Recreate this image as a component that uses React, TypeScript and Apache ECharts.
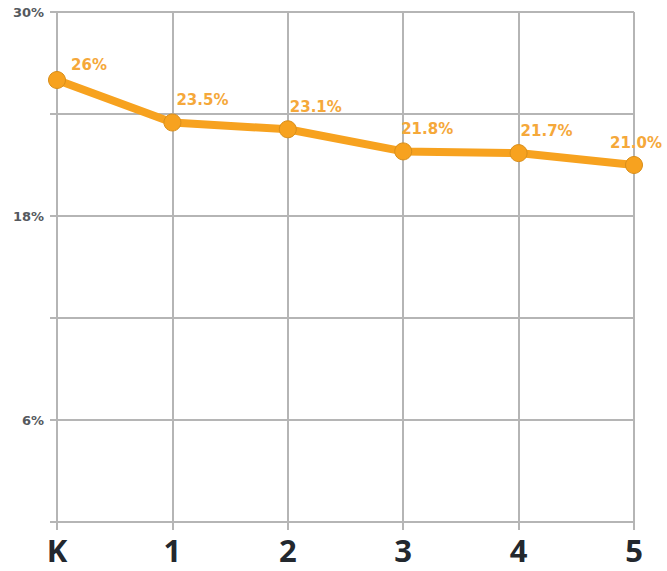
import React, { useEffect, useRef } from "react";
import * as echarts from "echarts";

const categories = ["K", "1", "2", "3", "4", "5"];
const rates = [26, 23.5, 23.1, 21.8, 21.7, 21.0];
const rateLabels = ["26%", "23.5%", "23.1%", "21.8%", "21.7%", "21.0%"];
const yTickLabels = [30, 18, 6];

const labelOffsets: [number, number][] = [
  [32, 7],
  [30, 0],
  [28, 0],
  [24, 0],
  [28, 0],
  [2, 0],
];

export default function App() {
  const ref = useRef<HTMLDivElement>(null);
  useEffect(() => {
    if (!ref.current) return;
    const chart = echarts.init(ref.current, undefined, { renderer: "svg" });
    chart.setOption({
      animation: false,
      backgroundColor: "#ffffff",
      grid: { left: 57, right: 33, top: 12, bottom: 49 },
      xAxis: {
        type: "category",
        data: categories,
        boundaryGap: false,
        axisLine: { show: true, lineStyle: { color: "#b5b5b5", width: 2 } },
        axisTick: { show: true, length: 8, alignWithLabel: true, lineStyle: { color: "#b5b5b5", width: 2 } },
        splitLine: { show: true, lineStyle: { color: "#b5b5b5", width: 2 } },
        axisLabel: {
          color: "#23282e",
          fontSize: 31,
          fontWeight: "bold",
          fontFamily: "Open Sans",
          margin: 12,
        },
      },
      yAxis: {
        type: "value",
        min: 0,
        max: 30,
        interval: 6,
        axisLine: { show: false },
        axisTick: { show: true, length: 7, lineStyle: { color: "#b5b5b5", width: 2 } },
        splitLine: { show: true, lineStyle: { color: "#b5b5b5", width: 2 } },
        axisLabel: {
          color: "#55595e",
          fontSize: 13,
          fontWeight: "bold",
          fontFamily: "DejaVu Sans",
          margin: 13,
          formatter: (v: number) => (yTickLabels.includes(v) ? v + "%" : ""),
        },
      },
      series: [
        {
          type: "line",
          data: rates.map((v, i) => ({
            value: v,
            label: { offset: labelOffsets[i] },
          })),
          lineStyle: { color: "#f7a21f", width: 8 },
          itemStyle: { color: "#f7a21f", borderColor: "#d88e1a", borderWidth: 1 },
          symbol: "circle",
          symbolSize: 17,
          label: {
            show: true,
            position: "top",
            distance: 6,
            color: "#f5a83a",
            fontSize: 15,
            fontWeight: "bold",
            fontFamily: "DejaVu Sans",
            formatter: (p: any) => rateLabels[p.dataIndex],
          },
        },
      ],
    });
    return () => chart.dispose();
  }, []);
  return <div ref={ref} style={{ width: 667, height: 571, position: "absolute", left: 0, top: 0 }} />;
}
